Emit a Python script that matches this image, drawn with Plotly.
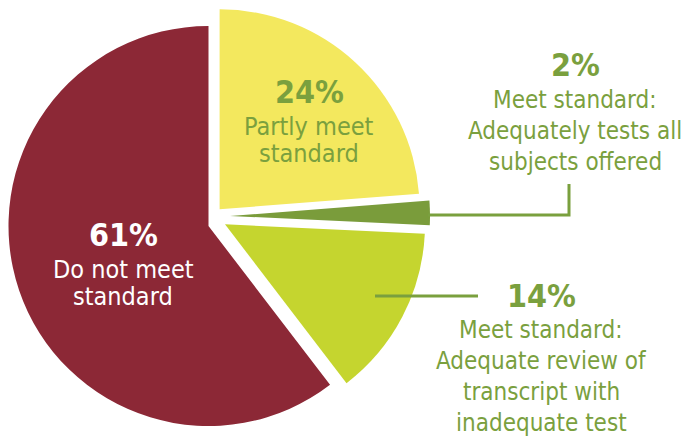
import plotly.graph_objects as go

# Share of districts by how they vet transfer credit
labels = [
    "Partly meet standard",
    "Meet standard: Adequately tests all subjects offered",
    "Meet standard: Adequate review of transcript with inadequate test",
    "Do not meet standard",
]
values = [24, 2, 14, 61]
desc_lines = [
    ["Partly meet", "standard"],
    ["Meet standard:", "Adequately tests all", "subjects offered"],
    ["Meet standard:", "Adequate review of", "transcript with", "inadequate test"],
    ["Do not meet", "standard"],
]

slice_colors = ["#F3E85E", "#7A9C3B", "#C5D52F", "#8C2836"]
text_green = "#7AA03E"
text_colors = [text_green, text_green, text_green, "#FFFFFF"]

W, H = 684, 441
FONT = "DejaVu Sans Condensed, Liberation Sans Narrow, sans-serif"
RADIUS = 200

# exploded layout: pixel centre of each wedge (each wedge is offset on its own)
wedge_centres = [(219.6, 209.3), (230, 216), (225, 224.3), (208.5, 226)]

# label block placement in pixels: centre x, percent baseline, first line baseline,
# line step, description font size
blocks = [
    (309, 103, 135, 27, 25),
    (575, 76, 108, 31, 24),
    (541, 307, 338, 31, 24),
    (123, 246, 278, 27, 25),
]
PCT_SIZE = 32


def px(x):
    return x / W


def py(y):
    return 1 - y / H


fig = go.Figure()
# one pie per wedge: the same values keep every wedge's angles, only one is painted
for i, (cx, cy) in enumerate(wedge_centres):
    colors = ["rgba(0,0,0,0)"] * len(values)
    colors[i] = slice_colors[i]
    fig.add_trace(go.Pie(
        labels=labels,
        values=values,
        sort=False,
        direction="clockwise",
        rotation=0,
        marker=dict(colors=colors, line=dict(width=0)),
        textinfo="none",
        hoverinfo="label+percent",
        domain=dict(x=[px(cx - RADIUS), px(cx + RADIUS)],
                    y=[py(cy + RADIUS), py(cy - RADIUS)]),
        showlegend=False,
    ))

annotations = []
for v, lines, color, (cx, pb, lb, step, size) in zip(values, desc_lines, text_colors, blocks):
    annotations.append(dict(
        text=f"<b>{v}%</b>", x=px(cx), y=py(pb - 0.35 * PCT_SIZE),
        xref="paper", yref="paper", xanchor="center", yanchor="middle",
        showarrow=False, font=dict(family=FONT, size=PCT_SIZE, color=color),
    ))
    for i, line in enumerate(lines):
        annotations.append(dict(
            text=line, x=px(cx), y=py(lb + i * step - 0.35 * size),
            xref="paper", yref="paper", xanchor="center", yanchor="middle",
            showarrow=False, font=dict(family=FONT, size=size, color=color),
        ))

# leader lines from the two smaller wedges to their labels
shapes = [
    dict(type="path", xref="paper", yref="paper",
         path=f"M {px(428)} {py(215)} L {px(569)} {py(215)} L {px(569)} {py(184)}",
         line=dict(color=text_green, width=3)),
    dict(type="line", xref="paper", yref="paper",
         x0=px(375), y0=py(296), x1=px(478), y1=py(296),
         line=dict(color=text_green, width=3)),
]

fig.update_layout(
    width=W, height=H,
    margin=dict(l=0, r=0, t=0, b=0),
    paper_bgcolor="white", plot_bgcolor="white",
    annotations=annotations, shapes=shapes,
)

fig.write_html("out.html")
